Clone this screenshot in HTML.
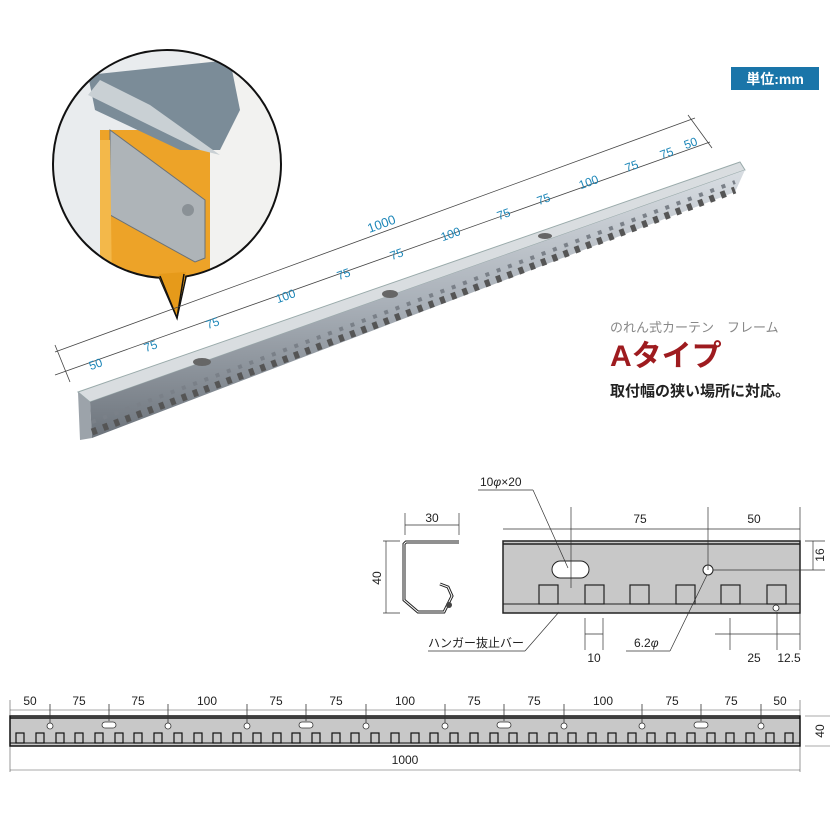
<!DOCTYPE html>
<html><head><meta charset="utf-8"><style>
html,body{margin:0;padding:0;background:#fff}
svg{display:block}
text{font-family:"Liberation Sans","Noto Sans CJK JP",sans-serif}
</style></head><body>
<svg width="840" height="840" viewBox="0 0 840 840" xmlns="http://www.w3.org/2000/svg">
<defs>
<clipPath id="cc"><circle cx="167" cy="164" r="114"/></clipPath>
<linearGradient id="rail" x1="0" y1="0" x2="0" y2="1">
<stop offset="0" stop-color="#d8dde2"/><stop offset="0.5" stop-color="#a9b0b8"/><stop offset="1" stop-color="#6d747c"/>
</linearGradient>
</defs>

<!-- photo bubble -->
<path d="M156,270 L177,318 L188,268 Z" fill="#e69a1a" stroke="#111" stroke-width="1.5"/>
<g clip-path="url(#cc)">
<rect x="50" y="48" width="240" height="240" fill="#e9ecee"/>
<rect x="200" y="48" width="90" height="240" fill="#f2f2f0"/>
<rect x="100" y="130" width="110" height="160" fill="#eda328"/>
<polygon points="110,130 205,200 205,258 195,262 110,215" fill="#aeb4b8" stroke="#6c7276"/>
<polygon points="88,75 230,60 240,110 220,150 180,150 95,110" fill="#7b8c98"/>
<polygon points="88,95 200,150 220,155 150,105 100,80" fill="#c9d0d4"/>
<circle cx="188" cy="210" r="6" fill="#8a9196"/>
<polygon points="100,140 110,140 112,290 100,290" fill="#f3b84a"/>
</g>
<circle cx="167" cy="164" r="114" fill="none" stroke="#111" stroke-width="2"/>
<path d="M158,274 L177,318 L186,272" fill="#e69a1a" stroke="none"/>
<path d="M160,276 L177,318 L184,274" fill="none" stroke="#111" stroke-width="1.5"/>

<!-- rail photo -->
<polygon points="78,392 740,162 745,170 90,402" fill="#d9dde0" stroke="#9aa" stroke-width="1"/>
<polygon points="78,392 90,402 92,438 80,440" fill="#9ca3aa"/>
<polygon points="90,402 745,170 735,192 92,438" fill="url(#rail)"/>
<path d="M92,432 L735,190" stroke="#555" stroke-width="7" stroke-dasharray="5,7" fill="none"/>
<path d="M92,422 L735,182" stroke="#7a8088" stroke-width="4" stroke-dasharray="4,8" fill="none"/>
<ellipse cx="202" cy="362" rx="9" ry="4" fill="#666"/>
<ellipse cx="390" cy="294" rx="8" ry="4" fill="#666"/>
<ellipse cx="545" cy="236" rx="7" ry="3" fill="#666"/>

<!-- diagonal dims -->
<g stroke="#444" stroke-width="0.8" fill="none">
<line x1="55" y1="352" x2="695" y2="118"/>
<line x1="55" y1="375" x2="710" y2="142"/>
<line x1="55" y1="345" x2="70" y2="382"/>
<line x1="688" y1="115" x2="712" y2="148"/>
</g>
<g fill="#1c86b8" font-size="12" transform="">
<text x="97" y="368" transform="rotate(-20 97 368)" text-anchor="middle">50</text>
<text x="152" y="350" transform="rotate(-20 152 350)" text-anchor="middle">75</text>
<text x="214" y="327" transform="rotate(-20 214 327)" text-anchor="middle">75</text>
<text x="287" y="300" transform="rotate(-20 287 300)" text-anchor="middle">100</text>
<text x="345" y="278" transform="rotate(-20 345 278)" text-anchor="middle">75</text>
<text x="398" y="258" transform="rotate(-20 398 258)" text-anchor="middle">75</text>
<text x="452" y="238" transform="rotate(-20 452 238)" text-anchor="middle">100</text>
<text x="505" y="218" transform="rotate(-20 505 218)" text-anchor="middle">75</text>
<text x="545" y="203" transform="rotate(-20 545 203)" text-anchor="middle">75</text>
<text x="590" y="186" transform="rotate(-20 590 186)" text-anchor="middle">100</text>
<text x="633" y="170" transform="rotate(-20 633 170)" text-anchor="middle">75</text>
<text x="668" y="157" transform="rotate(-20 668 157)" text-anchor="middle">75</text>
<text x="692" y="147" transform="rotate(-20 692 147)" text-anchor="middle">50</text>
<text x="383" y="228" transform="rotate(-20 383 228)" text-anchor="middle" font-size="13">1000</text>
</g>

<!-- unit label -->
<rect x="731" y="67" width="88" height="23" fill="#1a75a9"/>
<text x="775" y="84" fill="#fff" font-size="14" font-weight="bold" text-anchor="middle">単位:mm</text>

<text x="610" y="332" fill="#888" font-size="13">のれん式カーテン　フレーム</text>
<text x="610" y="366" fill="#9e1b1f" font-size="30" font-weight="bold">Aタイプ</text>
<text x="610" y="396" fill="#222" font-size="15" font-weight="bold">取付幅の狭い場所に対応。</text>

<!-- section drawing -->
<g stroke="#333" stroke-width="0.7" fill="none">
<line x1="405" y1="513" x2="405" y2="535"/><line x1="459" y1="513" x2="459" y2="535"/>
<line x1="405" y1="525" x2="459" y2="525"/>
<line x1="383" y1="541" x2="400" y2="541"/><line x1="383" y1="613" x2="400" y2="613"/>
<line x1="386" y1="541" x2="386" y2="613"/>
</g>
<path d="M459,542 L406,542 L404,544 L404,600 L418,612 L444,612 L452,596 L448,587 L440,584" fill="none" stroke="#222" stroke-width="3"/>
<path d="M459,542 L406,542 L404,544 L404,600 L418,612 L444,612 L452,596 L448,587 L440,584" fill="none" stroke="#fff" stroke-width="1"/>
<circle cx="449" cy="605" r="3" fill="#444"/>
<text x="432" y="522" font-size="12" text-anchor="middle" fill="#222">30</text>
<text x="381" y="578" font-size="12" text-anchor="middle" fill="#222" transform="rotate(-90 381 578)">40</text>

<rect x="503" y="541" width="297" height="72" fill="#c8c8c8" stroke="#222" stroke-width="1.5"/>
<line x1="503" y1="544" x2="800" y2="544" stroke="#222" stroke-width="1.5"/>
<line x1="503" y1="604" x2="800" y2="604" stroke="#222" stroke-width="1"/>
<rect x="552" y="561" width="37" height="17" rx="8.5" fill="#fff" stroke="#222"/>
<circle cx="708" cy="570" r="5" fill="#fff" stroke="#222"/>
<g fill="#c8c8c8" stroke="#222" stroke-width="1.2">
<rect x="539" y="585" width="19" height="19"/><rect x="585" y="585" width="19" height="19"/>
<rect x="630" y="585" width="19" height="19"/><rect x="676" y="585" width="19" height="19"/>
<rect x="721" y="585" width="19" height="19"/><rect x="767" y="585" width="19" height="19"/>
</g>
<circle cx="776" cy="608" r="3" fill="#fff" stroke="#222" stroke-width="0.8"/>
<g stroke="#333" stroke-width="0.7" fill="none">
<line x1="503" y1="529" x2="800" y2="529"/>
<line x1="571" y1="507" x2="571" y2="588"/>
<line x1="708" y1="507" x2="708" y2="570"/>
<line x1="800" y1="507" x2="800" y2="541"/>
<line x1="713" y1="570" x2="825" y2="570"/>
<line x1="805" y1="541" x2="825" y2="541"/>
<line x1="813" y1="541" x2="813" y2="570"/>
<line x1="478" y1="490" x2="533" y2="490"/><line x1="533" y1="490" x2="568" y2="568"/>
<line x1="559" y1="612" x2="525" y2="651"/><line x1="525" y1="651" x2="428" y2="651"/>
<line x1="707" y1="575" x2="670" y2="651"/><line x1="670" y1="651" x2="626" y2="651"/>
<line x1="585" y1="618" x2="585" y2="650"/><line x1="603" y1="618" x2="603" y2="650"/>
<line x1="585" y1="634" x2="603" y2="634"/>
<line x1="730" y1="618" x2="730" y2="650"/><line x1="777" y1="612" x2="777" y2="650"/>
<line x1="800" y1="613" x2="800" y2="650"/>
<line x1="715" y1="634" x2="800" y2="634"/>
</g>
<g font-size="12" fill="#222">
<text x="480" y="486">10<tspan font-style="italic">φ</tspan>×20</text>
<text x="640" y="523" text-anchor="middle">75</text>
<text x="754" y="523" text-anchor="middle">50</text>
<text x="824" y="555" text-anchor="middle" transform="rotate(-90 824 555)">16</text>
<text x="428" y="647">ハンガー抜止バー</text>
<text x="594" y="662" text-anchor="middle">10</text>
<text x="634" y="647">6.2<tspan font-style="italic">φ</tspan></text>
<text x="754" y="662" text-anchor="middle">25</text>
<text x="789" y="662" text-anchor="middle">12.5</text>
</g>

<!-- bottom strip -->
<g stroke="#555" stroke-width="0.6" fill="none">
<line x1="10" y1="710" x2="800" y2="710"/>
<line x1="10" y1="700" x2="10" y2="772"/><line x1="800" y1="700" x2="800" y2="772"/>
<line x1="10" y1="770" x2="800" y2="770"/>
<line x1="805" y1="716" x2="830" y2="716"/><line x1="805" y1="746" x2="830" y2="746"/>
</g>
<rect x="10" y="716" width="790" height="30" fill="#c8c8c8" stroke="#111" stroke-width="1.5"/>
<line x1="10" y1="718" x2="800" y2="718" stroke="#111" stroke-width="1.5"/>
<line x1="10" y1="743" x2="800" y2="743" stroke="#111" stroke-width="1"/>
<g id="slots" fill="#c8c8c8" stroke="#111" stroke-width="1.2">
<rect x="16" y="733" width="8" height="10"/><rect x="36" y="733" width="8" height="10"/><rect x="56" y="733" width="8" height="10"/><rect x="75" y="733" width="8" height="10"/><rect x="95" y="733" width="8" height="10"/><rect x="115" y="733" width="8" height="10"/><rect x="134" y="733" width="8" height="10"/><rect x="154" y="733" width="8" height="10"/><rect x="174" y="733" width="8" height="10"/><rect x="194" y="733" width="8" height="10"/><rect x="213" y="733" width="8" height="10"/><rect x="233" y="733" width="8" height="10"/><rect x="253" y="733" width="8" height="10"/><rect x="273" y="733" width="8" height="10"/><rect x="292" y="733" width="8" height="10"/><rect x="312" y="733" width="8" height="10"/><rect x="332" y="733" width="8" height="10"/><rect x="351" y="733" width="8" height="10"/><rect x="371" y="733" width="8" height="10"/><rect x="391" y="733" width="8" height="10"/><rect x="411" y="733" width="8" height="10"/><rect x="430" y="733" width="8" height="10"/><rect x="450" y="733" width="8" height="10"/><rect x="470" y="733" width="8" height="10"/><rect x="490" y="733" width="8" height="10"/><rect x="509" y="733" width="8" height="10"/><rect x="529" y="733" width="8" height="10"/><rect x="549" y="733" width="8" height="10"/><rect x="568" y="733" width="8" height="10"/><rect x="588" y="733" width="8" height="10"/><rect x="608" y="733" width="8" height="10"/><rect x="628" y="733" width="8" height="10"/><rect x="647" y="733" width="8" height="10"/><rect x="667" y="733" width="8" height="10"/><rect x="687" y="733" width="8" height="10"/><rect x="707" y="733" width="8" height="10"/><rect x="726" y="733" width="8" height="10"/><rect x="746" y="733" width="8" height="10"/><rect x="766" y="733" width="8" height="10"/><rect x="785" y="733" width="8" height="10"/>
</g>
<g stroke="#333" stroke-width="0.8" fill="#fff">
<line x1="50" y1="704" x2="50" y2="723"/><circle cx="50" cy="726" r="3"/>
<line x1="109" y1="704" x2="109" y2="721"/><rect x="102" y="722" width="14" height="6" rx="3"/>
<line x1="168" y1="704" x2="168" y2="723"/><circle cx="168" cy="726" r="3"/>
<line x1="247" y1="704" x2="247" y2="723"/><circle cx="247" cy="726" r="3"/>
<line x1="306" y1="704" x2="306" y2="721"/><rect x="299" y="722" width="14" height="6" rx="3"/>
<line x1="366" y1="704" x2="366" y2="723"/><circle cx="366" cy="726" r="3"/>
<line x1="445" y1="704" x2="445" y2="723"/><circle cx="445" cy="726" r="3"/>
<line x1="504" y1="704" x2="504" y2="721"/><rect x="497" y="722" width="14" height="6" rx="3"/>
<line x1="564" y1="704" x2="564" y2="723"/><circle cx="564" cy="726" r="3"/>
<line x1="642" y1="704" x2="642" y2="723"/><circle cx="642" cy="726" r="3"/>
<line x1="701" y1="704" x2="701" y2="721"/><rect x="694" y="722" width="14" height="6" rx="3"/>
<line x1="761" y1="704" x2="761" y2="723"/><circle cx="761" cy="726" r="3"/>
</g>
<g font-size="12" fill="#222" text-anchor="middle">
<text x="30" y="705">50</text><text x="79" y="705">75</text><text x="138" y="705">75</text>
<text x="207" y="705">100</text><text x="276" y="705">75</text><text x="336" y="705">75</text>
<text x="405" y="705">100</text><text x="474" y="705">75</text><text x="534" y="705">75</text>
<text x="603" y="705">100</text><text x="672" y="705">75</text><text x="731" y="705">75</text>
<text x="780" y="705">50</text>
<text x="405" y="764">1000</text>
<text x="824" y="731" transform="rotate(-90 824 731)">40</text>
</g>
</svg>
</body></html>
